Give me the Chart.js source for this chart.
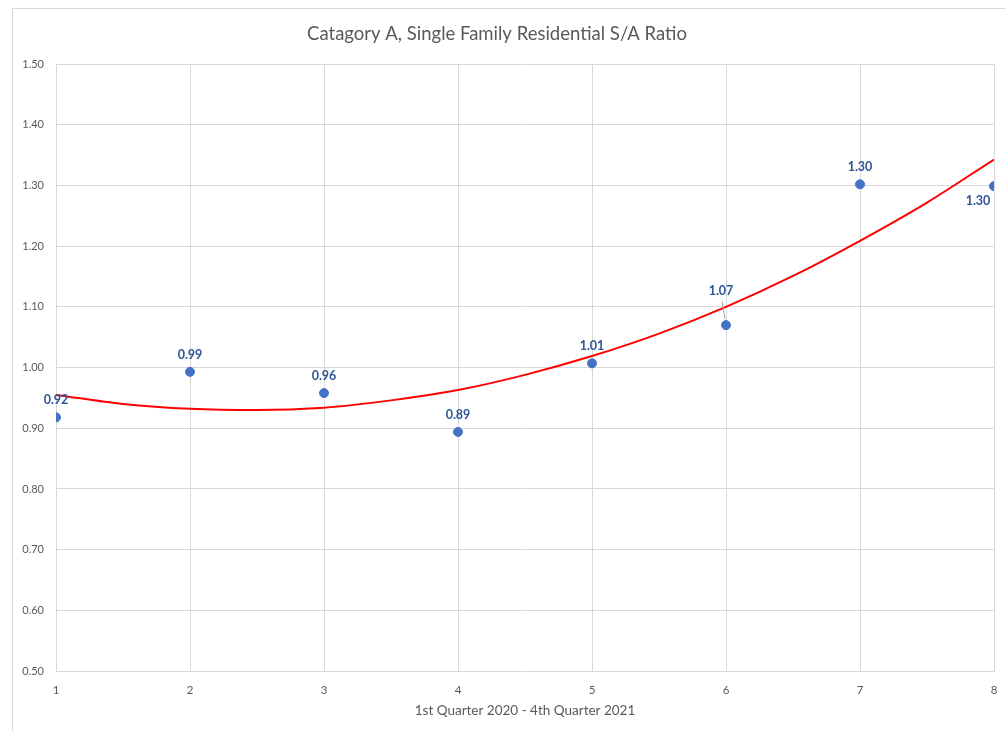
<!DOCTYPE html>
<html>
<head>
<meta charset="utf-8">
<script src="https://cdn.jsdelivr.net/npm/chart.js@4"></script>
<style>
    body { margin: 0; background: #fff; overflow: hidden; }
    #moldura { position: absolute; left: 12px; top: 8px; width: 1000px; height: 740px; border: 1px solid #d9d9d9; }
    #grafico { position: absolute; left: 0; top: 0; }
</style>
</head>
<body>
<div id="moldura"></div>
<canvas id="grafico" width="1005" height="731"></canvas>
<script>
//-----------------------------------------------------------------------------------------------
// Dados
const trimestres = [1, 2, 3, 4, 5, 6, 7, 8];
const razoesSA = [0.918, 0.993, 0.958, 0.894, 1.007, 1.070, 1.302, 1.299];
const rotulosPontos = ['0.92', '0.99', '0.96', '0.89', '1.01', '1.07', '1.30', '1.30'];

const tendenciaX = [1, 1.5, 2, 2.5, 3, 3.5, 4, 4.5, 5, 5.5, 6, 6.5, 7, 7.5, 8];
const tendenciaY = [0.955, 0.940, 0.932, 0.930, 0.934, 0.946, 0.963, 0.988, 1.019, 1.056, 1.100, 1.151, 1.209, 1.272, 1.343];

const ticksY = [0.50, 0.60, 0.70, 0.80, 0.90, 1.00, 1.10, 1.20, 1.30, 1.40, 1.50];
//-----------------------------------------------------------------------------------------------

const corTexto = '#595959';
const corGrade = '#d9d9d9';
const fonte = 'Lato, "Open Sans", sans-serif';

// Posição de cada rótulo em relação ao ponto (dx, dy em px)
const deslocRotulos = [[0, -17], [0, -17], [0, -17], [0, -17], [0, -17], [-5, -34], [0, -17], [-16, 15]];

// Plugin simples para escrever os valores perto dos pontos
const rotulosPlugin = {
    id: 'rotulos',
    afterDatasetsDraw(chart) {
        const ctx = chart.ctx;
        const meta = chart.getDatasetMeta(0);
        ctx.save();
        for (let i = 0; i < meta.data.length; i++) {
            const p = meta.data[i];
            const d = deslocRotulos[i];
            // linha guia do rótulo 6 (deslocado)
            if (i === 5) {
                ctx.strokeStyle = '#a6a6a6';
                ctx.lineWidth = 1;
                ctx.beginPath();
                ctx.moveTo(p.x - 4, p.y - 24);
                ctx.lineTo(p.x - 1, p.y - 6);
                ctx.stroke();
            }
            ctx.font = 'bold 12.5px ' + fonte;
            ctx.fillStyle = '#2f5597';
            ctx.textAlign = 'center';
            ctx.textBaseline = 'middle';
            ctx.fillText(rotulosPontos[i], p.x + d[0], p.y + d[1]);
        }
        ctx.restore();
    }
};

const pontos = trimestres.map((t, i) => ({ x: t, y: razoesSA[i] }));
const tendencia = tendenciaX.map((t, i) => ({ x: t, y: tendenciaY[i] }));

const ctx = document.getElementById('grafico').getContext('2d');

new Chart(ctx, {
    type: 'scatter',
    data: {
        datasets: [
            {
                label: 'S/A Ratio',
                data: pontos,
                backgroundColor: '#4472c4',
                borderColor: '#4472c4',
                pointRadius: 4.5,
                order: 0
            },
            {
                type: 'line',
                label: 'Poly. (S/A Ratio)',
                data: tendencia,
                borderColor: '#ff0000',
                borderWidth: 2,
                pointRadius: 0,
                cubicInterpolationMode: 'monotone',
                fill: false,
                order: 1
            }
        ]
    },
    plugins: [rotulosPlugin],
    options: {
        responsive: false,
        animation: false,
        layout: { padding: { left: 0, right: 11, top: 0, bottom: 0 } },
        plugins: {
            legend: { display: false },
            tooltip: { enabled: false },
            title: {
                display: true,
                text: 'Catagory A, Single Family Residential S/A Ratio',
                color: corTexto,
                font: { family: fonte, size: 18.5, weight: 'normal' },
                padding: { top: 23, bottom: 19 }
            }
        },
        scales: {
            x: {
                type: 'linear',
                min: 1,
                max: 8,
                afterFit: (scale) => {
                    scale.height = 60;
                    scale.paddingLeft = 0;
                    scale.paddingRight = 0;
                },
                ticks: { stepSize: 1, color: corTexto, font: { family: fonte, size: 11.5 }, padding: 12 },
                grid: { color: corGrade, drawTicks: false },
                border: { color: corGrade },
                title: {
                    display: true,
                    text: '1st Quarter 2020 - 4th Quarter 2021',
                    color: corTexto,
                    font: { family: fonte, size: 13.5 },
                    padding: { top: 5, bottom: 12 }
                }
            },
            y: {
                min: 0.5,
                max: 1.5,
                afterFit: (scale) => { scale.width = 56; },
                afterBuildTicks: (scale) => { scale.ticks = ticksY.map(v => ({ value: v })); },
                ticks: {
                    color: corTexto,
                    font: { family: fonte, size: 11 },
                    padding: 12,
                    callback: (v) => Number(v).toFixed(2)
                },
                grid: { color: corGrade, drawTicks: false },
                border: { color: corGrade }
            }
        }
    }
});
</script>
</body>
</html>
